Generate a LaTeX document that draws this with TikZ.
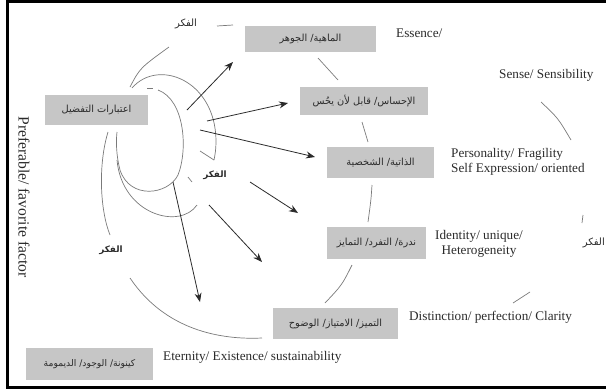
\documentclass[tikz,border=0pt]{standalone}
\usepackage{fontspec}
\setmainfont{Liberation Serif}
\newfontfamily\arabicfont[Script=Arabic]{DejaVu Sans}
\TeXXeTstate=1
\usetikzlibrary{arrows.meta}
\newcommand{\artxt}[1]{{\arabicfont\beginR #1\endR}}
\definecolor{boxgray}{HTML}{C6C6C6}
\definecolor{linegray}{HTML}{7A7A7A}
\definecolor{inkdark}{HTML}{2A2A2A}

\begin{document}
\begin{tikzpicture}[x=1pt, y=-1pt,
    box/.style={fill=boxgray, inner sep=0pt, text=inkdark, font=\fontsize{9.8}{11}\selectfont},
    eng/.style={inner sep=0pt, text=inkdark, font=\fontsize{13.2}{15}\selectfont},
    fikr/.style={inner sep=0pt, text=inkdark, font=\fontsize{10}{12}\selectfont},
    thin/.style={draw=linegray, line width=0.7pt},
    arr/.style={draw=inkdark, line width=0.8pt, -{Stealth[length=9pt,width=7pt]}}]
    \useasboundingbox (0,0) rectangle (606,389);
    % frame
    \draw[line width=2.6pt] (606,1.3) -- (7.5,1.3) -- (7.5,387.7) -- (606,387.7);

    % boxes
    \node[box, minimum width=103pt, minimum height=30pt] (pref) at (96.5,110) {\artxt{اعتبارات التفضيل}};
    \node[box, minimum width=131pt, minimum height=26pt] (mahiya) at (310.5,39) {\artxt{الماهية/ الجوهر}};
    \node[box, minimum width=128pt, minimum height=28pt] (ihsas) at (364,101) {\artxt{الإحساس/ قابل لأن يحُس}};
    \node[box, minimum width=107pt, minimum height=31pt] (dhatiya) at (380.5,162.5) {\artxt{الذاتية/ الشخصية}};
    \node[box, minimum width=99pt, minimum height=32pt] (nudra) at (376.5,243) {\artxt{ندرة/ التفرد/ التمايز}};
    \node[box, minimum width=125pt, minimum height=31pt] (tamayuz) at (335.5,323.5) {\artxt{التميز/ الامتياز/ الوضوح}};
    \node[box, minimum width=127pt, minimum height=32pt, font=\fontsize{9.2}{11}\selectfont] (kaynuna) at (89.5,364) {\artxt{كينونة/ الوجود/ الديمومة}};

    % english labels
    \node[eng, anchor=west] (essence) at (396,33) {Essence/};
    \node[eng, anchor=west] (sense) at (499,75) {Sense/ Sensibility};
    \node[eng, anchor=west, align=left] (personality) at (451,162) {Personality/ Fragility\\Self Expression/ oriented};
    \node[eng, align=center] (identity) at (479,244) {Identity/ unique/\\Heterogeneity};
    \node[eng, anchor=west] (distinction) at (409,317) {Distinction/ perfection/ Clarity};
    \node[eng, anchor=west] (eternity) at (163,357) {Eternity/ Existence/ sustainability};
    \node[eng, rotate=-90, font=\fontsize{15.6}{17}\selectfont] (factor) at (24,197) {Preferable/ favorite factor};

    % thought labels
    \node[fikr] (fikrtop) at (186,24) {\artxt{الفكر}};
    \node[fikr, font=\fontsize{8.8}{10}\bfseries] (fikrmid) at (215,175) {\artxt{الفكر}};
    \node[fikr, font=\fontsize{8.8}{10}\bfseries] (fikrleft) at (111,250) {\artxt{الفكر}};
    \node[fikr, anchor=east] (fikrright) at (605,243) {\artxt{الفكر}};

    % arcs round the factor box
    \draw[thin] (130,87) .. controls (140,68) .. (169,47);
    \draw[thin] (217,26) -- (233,25);
    \draw[thin] (132,88) .. controls (158,58) and (215,80) .. (216,140) .. controls (216,150) and (215,155) .. (214,160);
    \draw[thin] (200,151) -- (214,160);
    \draw[thin] (147,88) -- (153,88);
    \draw[thin] (158,90) .. controls (185,100) and (188,150) .. (178,175) .. controls (168,195) and (130,200) .. (120,170) .. controls (116,155) and (116,140) .. (117,132);
    \draw[thin] (117,160) .. controls (122,215) and (180,230) .. (197,205);
    \draw[thin] (108,132) .. controls (98,165) and (100,210) .. (110,235);
    \draw[thin] (188,177) -- (192,182);
    \draw[thin] (130,278) .. controls (165,330) and (220,340) .. (262,338);

    % short strokes between boxes
    \draw[thin] (318,58) -- (338,80);
    \draw[thin] (362,122) -- (368,142);
    \draw[thin] (372,185) .. controls (371,200) .. (368,222);
    \draw[thin] (352,265) .. controls (342,285) .. (325,303);
    \draw[thin] (541,102) .. controls (558,118) .. (571,140);
    \draw[thin] (583,215) -- (582,223);
    \draw[thin] (513,303) -- (530,292);

    % arrows
    \coordinate (a1s) at (187,110); \coordinate (a1e) at (233,62);
    \coordinate (a2s) at (207,121); \coordinate (a2e) at (288,103);
    \coordinate (a3s) at (200,130); \coordinate (a3e) at (315,157);
    \coordinate (a4s) at (250,182); \coordinate (a4e) at (298,213);
    \coordinate (a5s) at (209,205); \coordinate (a5e) at (262,262);
    \coordinate (a6s) at (173,182); \coordinate (a6e) at (200,302);
    \draw[arr] (a1s) -- (a1e);
    \draw[arr] (a2s) -- (a2e);
    \draw[arr] (a3s) -- (a3e);
    \draw[arr] (a4s) -- (a4e);
    \draw[arr] (a5s) -- (a5e);
    \draw[arr] (a6s) -- (a6e);
\end{tikzpicture}
\end{document}
